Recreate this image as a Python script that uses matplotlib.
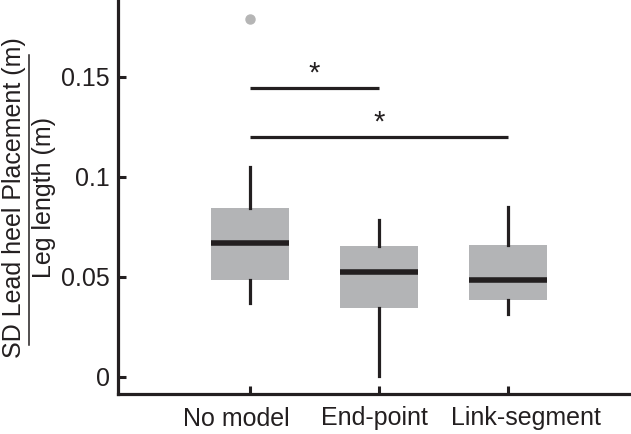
import numpy as np
import matplotlib
matplotlib.use("Agg")
from matplotlib import pyplot as plt
from matplotlib import transforms

plt.rcParams['font.family'] = ['Liberation Sans', 'DejaVu Sans']

# -- DATA --
labels = ["No model", "End-point", "Link-segment"]
q1 = [0.0482, 0.0342, 0.0382]
med = [0.0668, 0.0525, 0.0482]
q3 = [0.0842, 0.0652, 0.0660]
whislo = [0.0368, 0.0002, 0.0315]
whishi = [0.1048, 0.0782, 0.0850]
fliers = [[0.1788], [], []]

# significance brackets: (from, to, height)
sig_pairs = [(1, 2, 0.1443), (1, 3, 0.1197)]

stats = []
for i in range(len(labels)):
    stats.append(dict(label=labels[i], q1=q1[i], med=med[i], q3=q3[i],
                      whislo=whislo[i], whishi=whishi[i], fliers=fliers[i]))

INK = '#231f20'
BOXC = '#b3b4b6'

fig = plt.figure(figsize=(6.31, 4.34), dpi=100)
ax = fig.add_axes([118/631, 40/434, 513/631, 394/434])

ax.bxp(stats, positions=[1, 2, 3], widths=0.6, patch_artist=True,
       showcaps=False,
       boxprops=dict(facecolor=BOXC, edgecolor=BOXC, linewidth=0),
       medianprops=dict(color=INK, linewidth=4),
       whiskerprops=dict(color=INK, linewidth=2.3),
       flierprops=dict(marker='o', markerfacecolor='#b5b5b5',
                       markeredgecolor='#b5b5b5', markersize=6.5))

for a, b, h in sig_pairs:
    ax.plot([a, b], [h, h], color=INK, lw=2.3, solid_capstyle='butt')
    ax.text((a + b) / 2, h + 0.0035, '*', ha='center', va='baseline',
            fontsize=21, color=INK)

ax.set_xlim(-0.023, 3.954)
ax.set_ylim(-0.0087, 0.1885)
ax.set_xticks([1, 2, 3])
ax.set_xticklabels(labels)
ax.set_yticks([0, 0.05, 0.1, 0.15])
ax.set_yticklabels(['0', '0.05', '0.1', '0.15'])
ax.tick_params(direction='in', length=6, width=2.2, labelsize=18,
               colors=INK, pad=6)
ax.tick_params(axis='x', pad=9)

# labels in the original are nudged off their ticks
nudge = [-14, -4.5, 18]  # px
for lab, dx in zip(ax.get_xticklabels(), nudge):
    lab.set_transform(lab.get_transform() +
                      transforms.ScaledTranslation(dx / 100, 0, fig.dpi_scale_trans))

for s in ['top', 'right']:
    ax.spines[s].set_visible(False)
for s in ['left', 'bottom']:
    ax.spines[s].set_linewidth(2.3)
    ax.spines[s].set_color(INK)

# fraction style y label
fig.text(14/631, 1 - 197.5/434, 'SD Lead heel Placement (m)', rotation=90,
         ha='center', va='center', fontsize=18, color=INK)
fig.text(44/631, 1 - 197.5/434, 'Leg length (m)', rotation=90,
         ha='center', va='center', fontsize=18, color=INK)
fig.add_artist(plt.Line2D([29/631, 29/631], [1 - 345/434, 1 - 55/434],
                          color=INK, lw=1.1, transform=fig.transFigure))

fig.savefig('out.png', dpi=100)
